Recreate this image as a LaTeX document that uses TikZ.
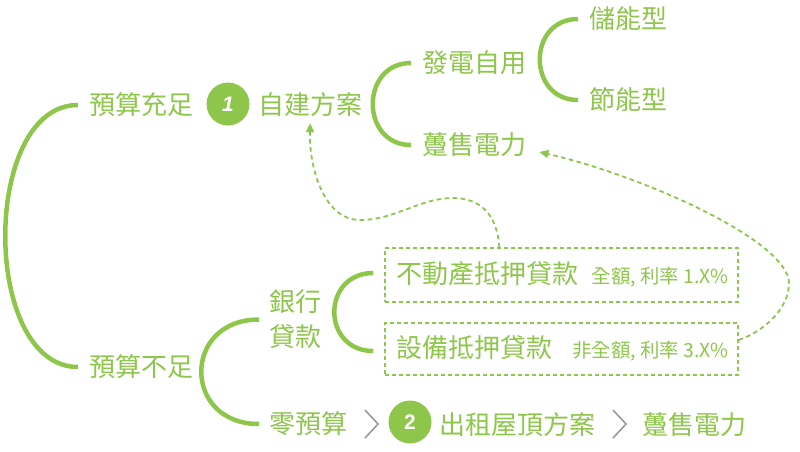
\documentclass[tikz,border=0pt]{standalone}
\usepackage{fontspec}
\setmainfont{Noto Sans CJK TC}
\newfontfamily\numfont{Liberation Sans}
\usetikzlibrary{arrows.meta,calc}
\definecolor{lg}{RGB}{141,198,74}
\definecolor{chev}{RGB}{150,150,150}
\begin{document}
\begin{tikzpicture}[x=1pt,y=-1pt,
  lbl/.style={anchor=west, inner sep=0pt, text=lg, font=\fontsize{26}{30}\selectfont},
  smalltxt/.style={anchor=base east, inner sep=0pt, text=lg, font=\fontsize{19.4}{22}\selectfont},
  arcline/.style={draw=lg, line width=4.5pt},
  num/.style={circle, fill=lg, minimum size=43pt, inner sep=0pt, text=white, font=\numfont\bfseries\fontsize{21}{21}\selectfont},
  dbox/.style={draw=lg, line width=1.4pt, dash pattern=on 4pt off 3pt, minimum width=353pt, inner sep=0pt},
  darrow/.style={draw=lg, line width=1.8pt, dash pattern=on 4.5pt off 3.5pt, -{Triangle[length=9pt,width=8pt]}},
  chevron/.style={draw=chev, line width=1.5pt}]
\useasboundingbox (0,0) rectangle (800,451);

% upper branch
\node[lbl] (yszu) at (89,105) {預算充足};
\node[num] (n1) at (228,104) {\itshape 1};
\node[lbl] (zj) at (258,105) {自建方案};
\node[lbl] (fd) at (422,63) {發電自用};
\node[lbl] (dsA) at (422,145) {躉售電力};
\node[lbl] (cn) at (589,19) {儲能型};
\node[lbl] (jn) at (589,100) {節能型};

% lower branch
\node[lbl] (ysbz) at (89,367) {預算不足};
\node[lbl, align=left, font=\fontsize{26}{35}\selectfont] (yh) at (269,319.5) {銀行\\貸款};
\node[lbl] (lys) at (269,424) {零預算};
\node[num] (n2) at (410,422) {2};
\node[lbl] (czw) at (439,425) {出租屋頂方案};
\node[lbl] (dsB) at (642,425) {躉售電力};

% loan boxes
\node[dbox, minimum height=54pt] (b1) at (561.5,275) {};
\node[dbox, minimum height=52pt] (b2) at (561.5,349) {};
\node[lbl] (b1t) at (396,273.5) {不動產抵押貸款};
\node[smalltxt, xshift=-10pt] (b1s) at (b1t.base -| b1.east) {全額, 利率 1.X\%};
\node[lbl] (b2t) at (396,348) {設備抵押貸款};
\node[smalltxt, xshift=-10pt] (b2s) at (b2t.base -| b2.east) {非全額, 利率 3.X\%};

% arcs
\draw[arcline] ([xshift=-11pt]yszu.west) .. controls +(-97,0) and +(-97,0) .. ([xshift=-11pt]ysbz.west);
\draw[arcline] ([xshift=-11pt]fd.west) .. controls +(-51,0) and +(-51,0) .. ([xshift=-11pt]dsA.west);
\draw[arcline] ([xshift=-11pt]cn.west) .. controls +(-51,0) and +(-51,0) .. ([xshift=-11pt]jn.west);
\draw[arcline] ([xshift=-10pt]yh.west) .. controls +(-77,0) and +(-77,0) .. ([xshift=-10pt]lys.west);
\draw[arcline] ([xshift=-11pt,yshift=2pt]b1.west) .. controls +(-52,0) and +(-52,0) .. ([xshift=-11pt,yshift=-2pt]b2.west);

% chevrons
\draw[chevron] (365,410) -- (378,424) -- (365,438);
\draw[chevron] (613,410) -- (626,424) -- (613,438);

% dashed arrows
\draw[darrow] ([xshift=115pt]b1.north west) .. controls +(-2,-33) and (480,198) .. (453,198)
  .. controls (420,198) and (395,220) .. (360,220)
  .. controls (325,220) and (309,170) .. ([yshift=-6pt]zj.south);
\draw[darrow] ([yshift=9pt]b2.east) .. controls (762,332) and (789,310) .. (789,283)
  .. controls (788,240) and (640,175) .. ([xshift=13pt,yshift=-7pt]dsA.east);
\end{tikzpicture}
\end{document}
